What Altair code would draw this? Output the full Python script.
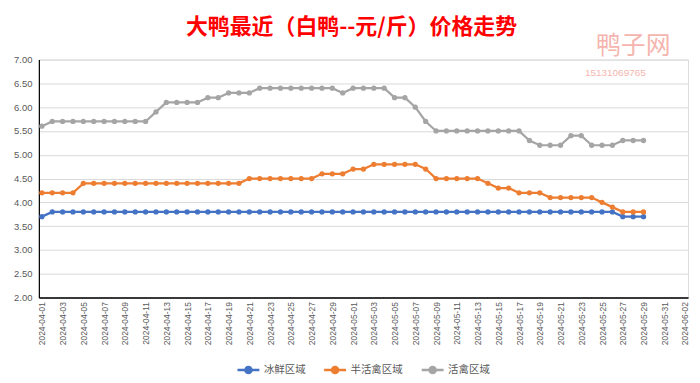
import altair as alt
import pandas as pd

series_names = ["冰鲜区域", "半活禽区域", "活禽区域"]
series_colors = ["#4472C4", "#ED7D31", "#A5A5A5"]

start_date = "2024-04-01"
axis_end_date = "2024-06-02"

blue = [3.7, 3.8, 3.8, 3.8, 3.8, 3.8, 3.8, 3.8, 3.8, 3.8,
        3.8, 3.8, 3.8, 3.8, 3.8, 3.8, 3.8, 3.8, 3.8, 3.8,
        3.8, 3.8, 3.8, 3.8, 3.8, 3.8, 3.8, 3.8, 3.8, 3.8,
        3.8, 3.8, 3.8, 3.8, 3.8, 3.8, 3.8, 3.8, 3.8, 3.8,
        3.8, 3.8, 3.8, 3.8, 3.8, 3.8, 3.8, 3.8, 3.8, 3.8,
        3.8, 3.8, 3.8, 3.8, 3.8, 3.8, 3.7, 3.7, 3.7]

orange = [4.2, 4.2, 4.2, 4.2, 4.4, 4.4, 4.4, 4.4, 4.4, 4.4,
          4.4, 4.4, 4.4, 4.4, 4.4, 4.4, 4.4, 4.4, 4.4, 4.4,
          4.5, 4.5, 4.5, 4.5, 4.5, 4.5, 4.5, 4.6, 4.6, 4.6,
          4.7, 4.7, 4.8, 4.8, 4.8, 4.8, 4.8, 4.7, 4.5, 4.5,
          4.5, 4.5, 4.5, 4.4, 4.3, 4.3, 4.2, 4.2, 4.2, 4.1,
          4.1, 4.1, 4.1, 4.1, 4.0, 3.9, 3.8, 3.8, 3.8]

gray = [5.6, 5.7, 5.7, 5.7, 5.7, 5.7, 5.7, 5.7, 5.7, 5.7,
        5.7, 5.9, 6.1, 6.1, 6.1, 6.1, 6.2, 6.2, 6.3, 6.3,
        6.3, 6.4, 6.4, 6.4, 6.4, 6.4, 6.4, 6.4, 6.4, 6.3,
        6.4, 6.4, 6.4, 6.4, 6.2, 6.2, 6.0, 5.7, 5.5, 5.5,
        5.5, 5.5, 5.5, 5.5, 5.5, 5.5, 5.5, 5.3, 5.2, 5.2,
        5.2, 5.4, 5.4, 5.2, 5.2, 5.2, 5.3, 5.3, 5.3]

y_ticks = [2.0, 2.5, 3.0, 3.5, 4.0, 4.5, 5.0, 5.5, 6.0, 6.5, 7.0]

title_text = "大鸭最近（白鸭--元/斤）价格走势"

# build table
data_dates = pd.date_range(start_date, periods=len(gray), freq="D").strftime("%Y-%m-%d").tolist()
axis_dates = pd.date_range(start_date, axis_end_date, freq="D").strftime("%Y-%m-%d").tolist()
label_dates = axis_dates[::2]

rows = []
for name, vals in zip(series_names, [blue, orange, gray]):
    for d, v in zip(data_dates, vals):
        rows.append({"date": d, "price": v, "series": name})
df = pd.DataFrame(rows)

cscale = alt.Scale(domain=series_names, range=series_colors)

X = alt.X("date:O", scale=alt.Scale(domain=axis_dates, type="point", padding=0.29),
          axis=alt.Axis(values=label_dates, title=None, labelAngle=-90, labelFont="Liberation Sans",
                        labelFontSize=8.5, labelColor="#595959", ticks=False, labelPadding=4,
                        domainColor="#000000", domainWidth=1.5, grid=False, labelBaseline="middle",
                        labelAlign="right"))
Y = alt.Y("price:Q", scale=alt.Scale(domain=[2, 7], nice=False, zero=False),
          axis=alt.Axis(values=y_ticks, format=".2f", title=None, labelFont="Liberation Sans",
                        labelFontSize=9.5, labelColor="#595959", ticks=False, labelPadding=7,
                        domainColor="#000000", domainWidth=1.2, gridColor="#D9D9D9", gridWidth=1))

leg = alt.Legend(title=None, orient="none", direction="horizontal", legendX=198, legendY=299,
                 symbolType="M-1,0L1,0M0.28,0A0.28,0.28,0,1,1,-0.28,0A0.28,0.28,0,1,1,0.28,0",
                 symbolSize=484, symbolStrokeWidth=2.5, labelFont="Noto Sans CJK SC",
                 labelFontSize=10.5, labelColor="#595959", columnPadding=13, labelOffset=3)

lines = alt.Chart(df).mark_line(
    strokeWidth=2.25, point=alt.OverlayMarkDef(filled=True, size=28)
).encode(x=X, y=Y, color=alt.Color("series:N", scale=cscale, legend=leg, sort=series_names))

wm1 = alt.Chart(pd.DataFrame({"t": ["鸭子网"]})).mark_text(
    font="Noto Sans CJK SC", fontSize=25, color="#F4A9A0", opacity=0.85, align="center",
    baseline="middle").encode(x=alt.value(597), y=alt.value(-14), text="t:N")
wm2 = alt.Chart(pd.DataFrame({"t": ["15131069765"]})).mark_text(
    font="Liberation Sans", fontSize=10, color="#F4A9A0", opacity=0.85, align="center",
    baseline="middle").encode(x=alt.value(579), y=alt.value(13), text="t:N")

chart = alt.layer(lines, wm1, wm2).properties(
    width=652, height=239,
    title=alt.TitleParams(title_text, font="Noto Sans CJK SC", fontSize=22, fontWeight="bold",
                          color="#FF0000", anchor="middle", offset=-5, dx=-12),
    padding={"left": 5, "top": 7, "right": 2, "bottom": 0},
).configure_view(stroke=None).configure(background="white")

chart.save("out.html", embed_options={"renderer": "svg", "actions": False})
